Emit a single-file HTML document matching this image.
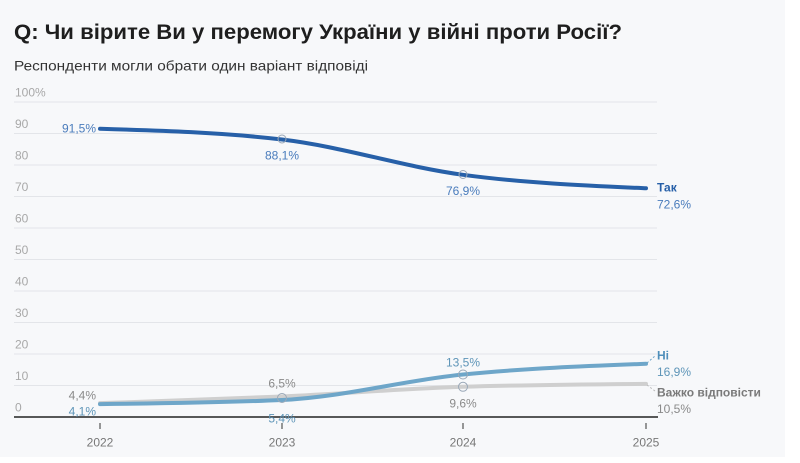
<!DOCTYPE html>
<html><head><meta charset="utf-8">
<style>
html,body{margin:0;padding:0;background:#fff;}
body{width:800px;height:463px;overflow:hidden;}
svg{display:block;}
text{font-family:"Liberation Sans",sans-serif;}
</style></head>
<body>
<svg width="800" height="463" viewBox="0 0 800 463" xmlns="http://www.w3.org/2000/svg">
<rect x="0" y="0" width="785" height="457" fill="#f7f8fa"/>
<text x="14" y="39" font-size="21" font-weight="bold" fill="#1e1e1e" textLength="608" lengthAdjust="spacingAndGlyphs">Q: Чи вірите Ви у перемогу України у війні проти Росії?</text>
<text x="14" y="70.5" font-size="14" fill="#333" textLength="354" lengthAdjust="spacingAndGlyphs">Респонденти могли обрати один варіант відповіді</text>

<g stroke="#e3e5e9" stroke-width="1">
<line x1="14" x2="657" y1="102" y2="102"/>
<line x1="14" x2="657" y1="133.5" y2="133.5"/>
<line x1="14" x2="657" y1="165" y2="165"/>
<line x1="14" x2="657" y1="196.5" y2="196.5"/>
<line x1="14" x2="657" y1="228" y2="228"/>
<line x1="14" x2="657" y1="259.5" y2="259.5"/>
<line x1="14" x2="657" y1="291" y2="291"/>
<line x1="14" x2="657" y1="322.5" y2="322.5"/>
<line x1="14" x2="657" y1="354" y2="354"/>
<line x1="14" x2="657" y1="385.5" y2="385.5"/>
</g>
<g font-size="12" fill="#a8a8a8">
<text x="15" y="96.5">100%</text>
<text x="15" y="128">90</text>
<text x="15" y="159.5">80</text>
<text x="15" y="191">70</text>
<text x="15" y="222.5">60</text>
<text x="15" y="254">50</text>
<text x="15" y="285.5">40</text>
<text x="15" y="317">30</text>
<text x="15" y="348.5">20</text>
<text x="15" y="380">10</text>
<text x="15" y="411.5">0</text>
</g>

<!-- series -->
<path d="M100,403.1 C160.67,401.2 221.33,399.2 282,396.5 C342.33,393.8 402.67,388.7 463,386.8 C524,384.9 585,384.4 646,383.9" fill="none" stroke="#cfcfcf" stroke-width="4" stroke-linecap="round"/>
<path d="M100,404.1 C160.67,403.4 221.33,402.7 282,400 C342.33,397.3 402.67,380.5 463,374.5 C524,368.4 585,366.1 646,363.8" fill="none" stroke="#6ea6c9" stroke-width="4" stroke-linecap="round"/>
<path d="M100,128.8 C160.67,130.6 221.33,132.4 282,139.5 C342.33,146.6 402.67,166.7 463,174.8 C524,183 585,185.6 646,188.3" fill="none" stroke="#2760a8" stroke-width="4" stroke-linecap="round"/>

<!-- markers -->
<g fill="none" stroke="#9aa8b8" stroke-width="1">
<circle cx="282" cy="139" r="4"/>
<circle cx="463" cy="174.5" r="4"/>
<circle cx="282" cy="398" r="4.5"/>
<circle cx="463" cy="374.5" r="4.5"/>
<circle cx="463" cy="386.8" r="4.5"/>
</g>

<!-- leaders -->
<g stroke-dasharray="2,2" stroke-width="1" fill="none">
<line x1="647" y1="363" x2="655" y2="356" stroke="#6ea6c9"/>
<line x1="647" y1="385" x2="655" y2="391" stroke="#bbb"/>
</g>

<!-- axis -->
<line x1="14" x2="658" y1="417" y2="417" stroke="#222" stroke-width="1.5"/>
<g stroke="#333" stroke-width="1">
<line x1="100" x2="100" y1="423" y2="429"/>
<line x1="282" x2="282" y1="423" y2="429"/>
<line x1="463" x2="463" y1="423" y2="429"/>
<line x1="646" x2="646" y1="423" y2="429"/>
</g>
<g font-size="12" fill="#777" text-anchor="middle">
<text x="100" y="446.5">2022</text>
<text x="282" y="446.5">2023</text>
<text x="463" y="446.5">2024</text>
<text x="646" y="446.5">2025</text>
</g>

<!-- value labels -->
<g font-size="12">
<text x="96" y="132.5" text-anchor="end" fill="#4a7cbc">91,5%</text>
<text x="282" y="159.5" text-anchor="middle" fill="#4a7cbc">88,1%</text>
<text x="463" y="195" text-anchor="middle" fill="#4a7cbc">76,9%</text>
<text x="657" y="191.5" font-weight="bold" fill="#2760a8">Так</text>
<text x="657" y="208.5" fill="#4a7cbc">72,6%</text>

<text x="96" y="399.5" text-anchor="end" fill="#8a8a8a">4,4%</text>
<text x="96" y="415.5" text-anchor="end" fill="#5e95b8">4,1%</text>
<text x="282" y="387.5" text-anchor="middle" fill="#8a8a8a">6,5%</text>
<text x="282" y="422.5" text-anchor="middle" fill="#5e95b8">5,4%</text>
<text x="463" y="366.5" text-anchor="middle" fill="#5e95b8">13,5%</text>
<text x="463" y="407.5" text-anchor="middle" fill="#8a8a8a">9,6%</text>

<text x="657" y="359.5" font-weight="bold" fill="#4f8fbb">Ні</text>
<text x="657" y="376" fill="#5e95b8">16,9%</text>
<text x="657" y="396.5" font-weight="bold" fill="#7a7a7a">Важко відповісти</text>
<text x="657" y="413" fill="#8a8a8a">10,5%</text>
</g>
</svg>
</body></html>
